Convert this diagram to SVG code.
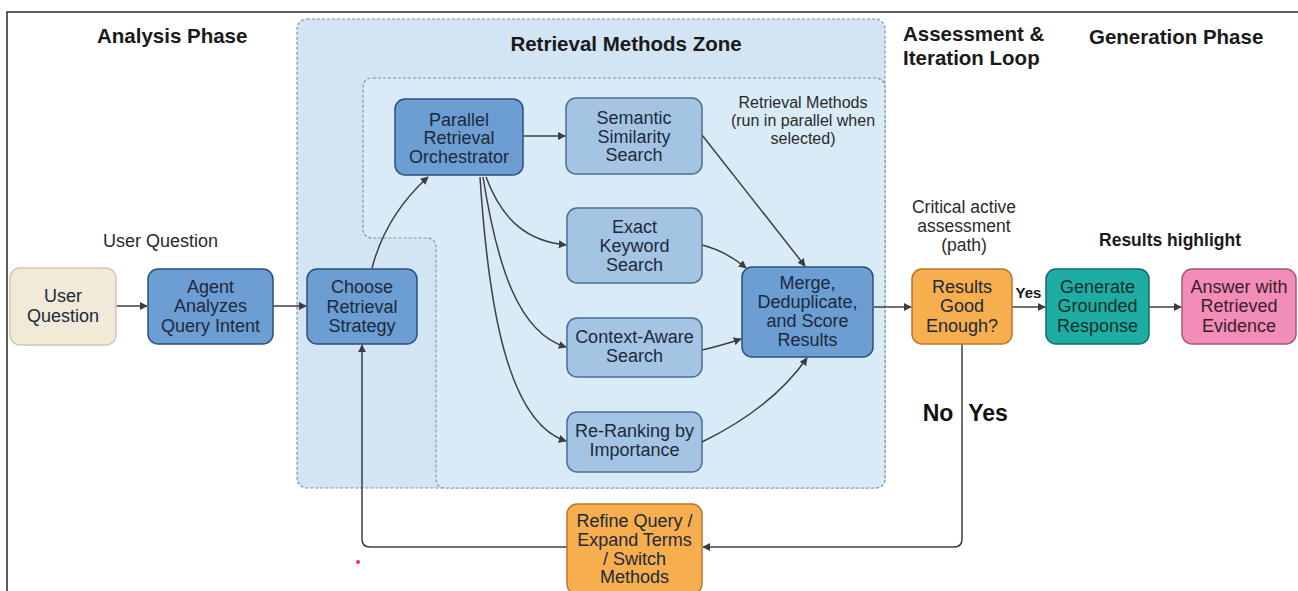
<svg xmlns="http://www.w3.org/2000/svg" width="1298" height="591" viewBox="0 0 1298 591">
<defs>
<marker id="ah" viewBox="0 0 10 10" refX="9" refY="5" markerWidth="8" markerHeight="8" markerUnits="userSpaceOnUse" orient="auto">
<path d="M0,0 L10,5 L0,10 Z" fill="#3d3d3d"/>
</marker>
<style>
.head{font-family:"Liberation Sans",Arial,sans-serif;font-weight:bold;font-size:20.5px;fill:#1a1a1a}
.lbl{font-family:"Liberation Sans",Arial,sans-serif;font-size:17.5px;fill:#2a2a2a;text-anchor:middle}
.nt{font-family:"Liberation Sans",Arial,sans-serif;font-size:18px;fill:#1c2a3a;text-anchor:middle}
.dark rect{fill:#6c9dd3;stroke:#2d5078;stroke-width:1.5}
.light rect{fill:#a4c4e4;stroke:#4a6e93;stroke-width:1.5}
.orange rect{fill:#f6ae4f;stroke:#b9772a;stroke-width:1.5}
.conn path{fill:none;stroke:#404040;stroke-width:1.5}
.zone{stroke:#7c95aa;stroke-width:1.2;stroke-dasharray:3 2}
</style>
</defs>
<rect width="1298" height="591" fill="#ffffff"/>
<path d="M7,591 V12 H1298" fill="none" stroke="#2a2a2a" stroke-width="1.5"/>

<g id="zones">
<rect class="zone" x="297" y="19" width="588" height="469" rx="10" fill="#d3e5f4"/>
<path class="zone" d="M373,78 H875 Q885,78 885,88 V478 Q885,488 875,488 H446 Q436,488 436,478 V248 Q436,238 426,238 H373 Q363,238 363,228 V88 Q363,78 373,78 Z" fill="#d8ebf6"/>
</g>

<g id="headings">
<text class="head" x="97" y="43">Analysis Phase</text>
<text class="head" x="626" y="51" text-anchor="middle">Retrieval Methods Zone</text>
<text class="head" x="903" y="41">Assessment &amp;</text>
<text class="head" x="903" y="65">Iteration Loop</text>
<text class="head" x="1089" y="44">Generation Phase</text>
<text class="lbl" x="160.5" y="247" style="font-size:18px">User Question</text>
<text class="lbl" x="803" y="108" style="font-size:16px">Retrieval Methods</text>
<text class="lbl" x="803" y="126" style="font-size:16px">(run in parallel when</text>
<text class="lbl" x="803" y="144" style="font-size:16px">selected)</text>
<text class="lbl" x="964" y="213">Critical active</text>
<text class="lbl" x="964" y="232">assessment</text>
<text class="lbl" x="964" y="251">(path)</text>
<text class="lbl" x="1170" y="246" style="font-weight:bold;fill:#1a1a1a">Results highlight</text>
</g>

<g id="connectors" class="conn">
<path d="M116,306 L147,306" marker-end="url(#ah)"/>
<path d="M273,306 L306,306" marker-end="url(#ah)"/>
<path d="M372,268 Q386,215 428,177" marker-end="url(#ah)"/>
<path d="M523,136 L565,136" marker-end="url(#ah)"/>
<path d="M486,177 C503,222 528,241 566,245" marker-end="url(#ah)"/>
<path d="M483,177 C497,265 518,333 566,347" marker-end="url(#ah)"/>
<path d="M480,177 C488,300 506,422 566,441" marker-end="url(#ah)"/>
<path d="M702,135 L805,266" marker-end="url(#ah)"/>
<path d="M702,245 Q726,251 746,268" marker-end="url(#ah)"/>
<path d="M702,350 Q720,346 741,339" marker-end="url(#ah)"/>
<path d="M702,442 Q772,408 807,358" marker-end="url(#ah)"/>
<path d="M874,307 L911,307" marker-end="url(#ah)"/>
<path d="M1012,307 L1045,307" marker-end="url(#ah)"/>
<path d="M1149,307 L1181,307" marker-end="url(#ah)"/>
<path d="M962,344 V539 Q962,547 954,547 H703" marker-end="url(#ah)"/>
<path d="M567,547 H370 Q362,547 362,539 V345" marker-end="url(#ah)"/>
<text x="1028.5" y="298" text-anchor="middle" style="font-family:'Liberation Sans',Arial,sans-serif;font-weight:bold;font-size:15px;fill:#1a1a1a">Yes</text>
<text x="938" y="421" text-anchor="middle" style="font-family:'Liberation Sans',Arial,sans-serif;font-weight:bold;font-size:23px;fill:#111">No</text>
<text x="988" y="421" text-anchor="middle" style="font-family:'Liberation Sans',Arial,sans-serif;font-weight:bold;font-size:23px;fill:#111">Yes</text>
</g>

<g id="user-question">
<rect x="10" y="268" width="106" height="77" rx="10" fill="#f2ead9" stroke="#d2c8b2" stroke-width="1.5"/>
<text class="nt" x="63" y="302">User</text>
<text class="nt" x="63" y="322">Question</text>
</g>
<g id="agent" class="dark">
<rect x="148" y="269" width="125" height="75" rx="10"/>
<text class="nt" x="210.5" y="293">Agent</text>
<text class="nt" x="210.5" y="312">Analyzes</text>
<text class="nt" x="210.5" y="332">Query Intent</text>
</g>
<g id="choose" class="dark">
<rect x="307" y="269" width="110" height="75" rx="10"/>
<text class="nt" x="362" y="293">Choose</text>
<text class="nt" x="362" y="313">Retrieval</text>
<text class="nt" x="362" y="332">Strategy</text>
</g>
<g id="orchestrator" class="dark">
<rect x="395" y="99" width="128" height="76" rx="10"/>
<text class="nt" x="459" y="126">Parallel</text>
<text class="nt" x="459" y="144">Retrieval</text>
<text class="nt" x="459" y="163">Orchestrator</text>
</g>
<g id="semantic" class="light">
<rect x="566" y="98" width="136" height="76" rx="10"/>
<text class="nt" x="634" y="124">Semantic</text>
<text class="nt" x="634" y="143">Similarity</text>
<text class="nt" x="634" y="161">Search</text>
</g>
<g id="exact" class="light">
<rect x="567" y="208" width="135" height="75" rx="10"/>
<text class="nt" x="634.5" y="233">Exact</text>
<text class="nt" x="634.5" y="252">Keyword</text>
<text class="nt" x="634.5" y="271">Search</text>
</g>
<g id="context" class="light">
<rect x="567" y="318" width="135" height="59" rx="10"/>
<text class="nt" x="634.5" y="343">Context-Aware</text>
<text class="nt" x="634.5" y="362">Search</text>
</g>
<g id="rerank" class="light">
<rect x="567" y="412" width="135" height="60" rx="10"/>
<text class="nt" x="634.5" y="437">Re-Ranking by</text>
<text class="nt" x="634.5" y="456">Importance</text>
</g>
<g id="merge" class="dark">
<rect x="742" y="267" width="131" height="90" rx="10"/>
<text class="nt" x="807.5" y="289">Merge,</text>
<text class="nt" x="807.5" y="308">Deduplicate,</text>
<text class="nt" x="807.5" y="327">and Score</text>
<text class="nt" x="807.5" y="346">Results</text>
</g>
<g id="results-good" class="orange">
<rect x="912" y="269" width="100" height="75" rx="10"/>
<text class="nt" x="962" y="293">Results</text>
<text class="nt" x="962" y="312">Good</text>
<text class="nt" x="962" y="332">Enough?</text>
</g>
<g id="generate">
<rect x="1046" y="269" width="103" height="75" rx="10" fill="#1fada3" stroke="#0f6d66" stroke-width="1.5"/>
<text class="nt" x="1097.5" y="293" style="fill:#10302f">Generate</text>
<text class="nt" x="1097.5" y="312" style="fill:#10302f">Grounded</text>
<text class="nt" x="1097.5" y="332" style="fill:#10302f">Response</text>
</g>
<g id="answer">
<rect x="1182" y="269" width="114" height="75" rx="10" fill="#f28db8" stroke="#a9557a" stroke-width="1.5"/>
<text class="nt" x="1239" y="293" style="fill:#3a1e2c">Answer with</text>
<text class="nt" x="1239" y="312" style="fill:#3a1e2c">Retrieved</text>
<text class="nt" x="1239" y="332" style="fill:#3a1e2c">Evidence</text>
</g>
<g id="refine" class="orange">
<rect x="567" y="504" width="135" height="90" rx="10"/>
<text class="nt" x="634.5" y="527">Refine Query /</text>
<text class="nt" x="634.5" y="546">Expand Terms</text>
<text class="nt" x="634.5" y="565">/ Switch</text>
<text class="nt" x="634.5" y="583">Methods</text>
</g>
<circle cx="358" cy="562" r="2" fill="#e53945"/>
</svg>
